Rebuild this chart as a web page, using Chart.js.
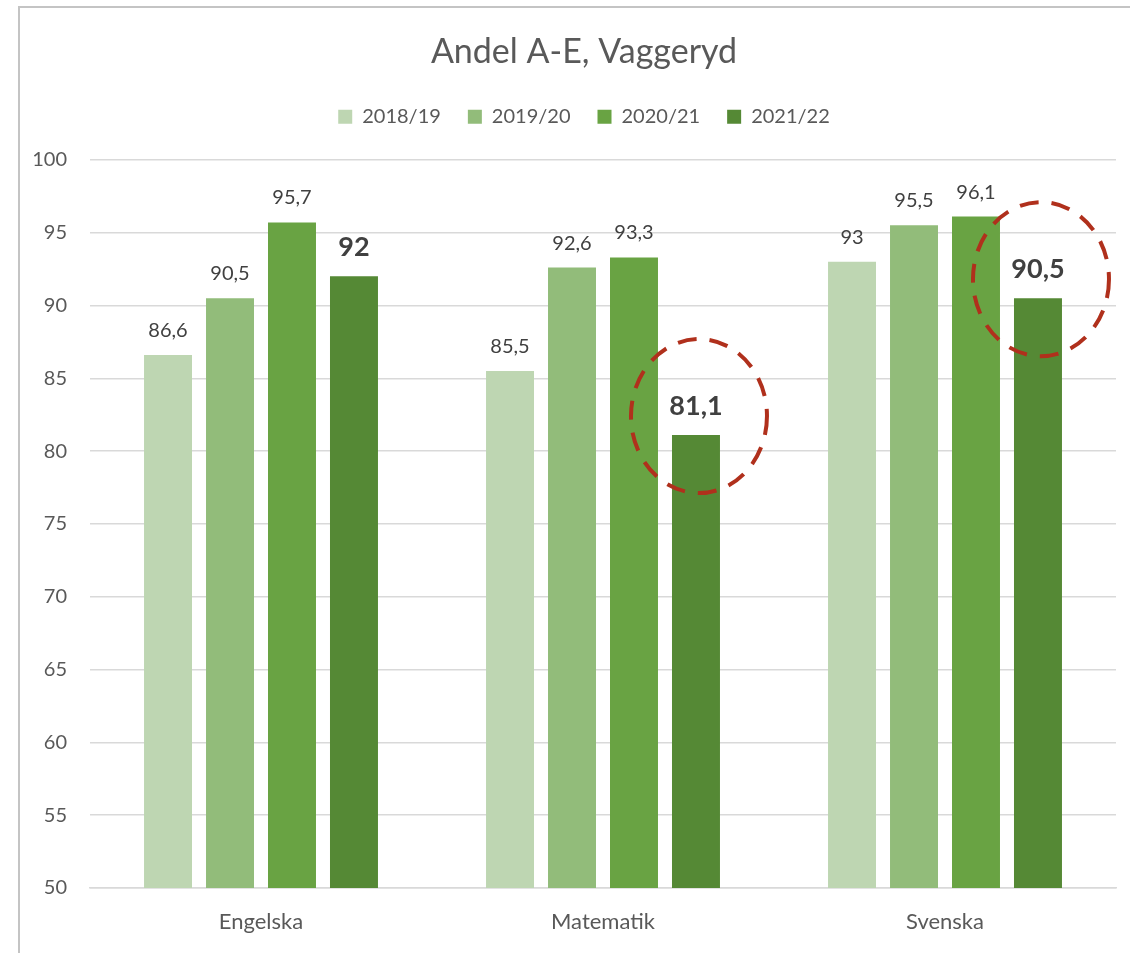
<!DOCTYPE html>
<html>
<head>
<meta charset="utf-8">
<script src="https://cdn.jsdelivr.net/npm/chart.js@4"></script>
<style>
  html, body { margin: 0; padding: 0; background: #fff; overflow: hidden; }
  #frame { position: absolute; left: 18px; top: 6px; width: 2000px; height: 2000px;
           border-left: 2px solid #c4c4c4; border-top: 2px solid #c4c4c4; }
  #chart { position: absolute; left: 19px; top: 7px; }
</style>
</head>
<body>
<div id="frame"></div>
<canvas id="chart" width="1130" height="946"></canvas>
<script>
// data
const subjects = ['Engelska', 'Matematik', 'Svenska'];
const years = ['2018/19', '2019/20', '2020/21', '2021/22'];
const v1819 = [86.6, 85.5, 93];
const v1920 = [90.5, 92.6, 95.5];
const v2021 = [95.7, 93.3, 96.1];
const v2122 = [92, 81.1, 90.5];
const colors = ['#bed6b2', '#92bc7a', '#69a343', '#558935'];
// bars to mark with a dashed circle: [dataset, category]
const marked = [[3, 1], [3, 2]];

const fontFamily = 'Lato, "Open Sans", sans-serif';
const fmt = v => String(v).replace('.', ',');

// etiketter ovanför staplarna
const barLabels = {
  id: 'barLabels',
  afterDatasetsDraw(chart) {
    const ctx = chart.ctx;
    ctx.save();
    ctx.textAlign = 'center';
    ctx.textBaseline = 'alphabetic';
    ctx.fillStyle = '#404040';
    chart.data.datasets.forEach((ds, i) => {
      const bold = i === 3;
      ctx.font = (bold ? 'bold 27px ' : '20px ') + fontFamily;
      chart.getDatasetMeta(i).data.forEach((bar, j) => {
        ctx.fillText(fmt(ds.data[j]), bar.x, bar.y - (bold ? 20 : 18));
      });
    });
    ctx.restore();
  }
};

// streckade cirklar
const circles = {
  id: 'circles',
  afterDraw(chart) {
    const ctx = chart.ctx;
    ctx.save();
    ctx.strokeStyle = '#b0301c';
    ctx.lineWidth = 4;
    ctx.setLineDash([19, 13]);
    marked.forEach(([d, c]) => {
      const bar = chart.getDatasetMeta(d).data[c];
      ctx.beginPath();
      ctx.ellipse(bar.x + 3, bar.y - 19, 68, 77, 0, 0, Math.PI * 2);
      ctx.stroke();
    });
    ctx.restore();
  }
};

// extra luft under förklaringen
const legendGap = {
  id: 'legendGap',
  afterInit(chart) {
    const fit = chart.legend.fit;
    chart.legend.fit = function () {
      fit.call(this);
      this.height += 23;
    };
  }
};

new Chart(document.getElementById('chart'), {
  type: 'bar',
  data: {
    labels: subjects,
    datasets: [v1819, v1920, v2021, v2122].map((d, i) => ({
      label: years[i],
      data: d,
      backgroundColor: colors[i],
      categoryPercentage: 0.725,
      barPercentage: 0.774
    }))
  },
  options: {
    responsive: false,
    animation: false,
    devicePixelRatio: 1,
    layout: { padding: { top: 23, right: 0, bottom: 0, left: 0 } },
    plugins: {
      title: {
        display: true,
        text: 'Andel A-E, Vaggeryd',
        color: '#595959',
        font: { family: fontFamily, size: 34, weight: 'normal' },
        padding: { top: 2, bottom: 7 }
      },
      legend: {
        position: 'top',
        labels: {
          color: '#595959',
          font: { family: fontFamily, size: 20 },
          boxWidth: 14,
          boxHeight: 14,
          padding: 27
        }
      },
      tooltip: { enabled: false }
    },
    scales: {
      x: {
        grid: { display: false },
        border: { display: true, color: '#d9d9d9', width: 1.5 },
        ticks: { color: '#595959', font: { family: fontFamily, size: 22 }, padding: 13 },
        afterFit(s) { s.height = 65; }
      },
      y: {
        min: 50,
        max: 100,
        ticks: { stepSize: 5, color: '#595959', font: { family: fontFamily, size: 20 }, padding: 23 },
        grid: { color: '#d9d9d9', lineWidth: 1.5, drawTicks: false },
        border: { display: false },
        afterFit(s) { s.width = 71; }
      },
      // tom högermarginal så att rubrik och förklaring centreras över hela ytan
      right: {
        position: 'right',
        grid: { display: false },
        border: { display: false },
        ticks: { display: false },
        afterFit(s) { s.width = 33; }
      }
    }
  },
  plugins: [barLabels, circles, legendGap]
});
</script>
</body>
</html>
